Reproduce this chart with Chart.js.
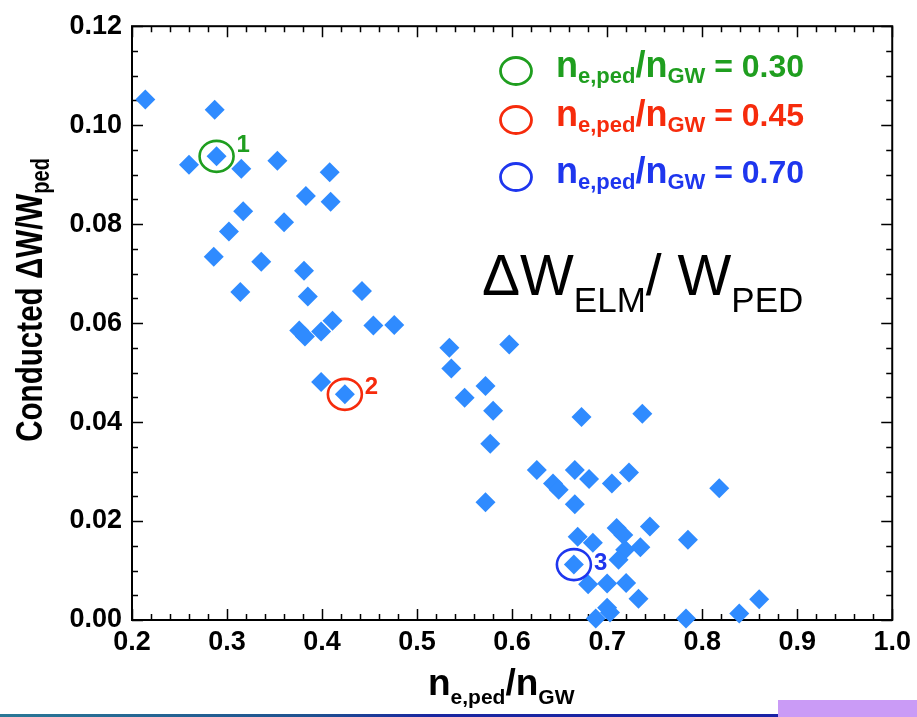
<!DOCTYPE html>
<html>
<head>
<meta charset="utf-8">
<script src="https://cdn.jsdelivr.net/npm/chart.js@4.4.0/dist/chart.umd.min.js"></script>
<style>
  html, body { margin: 0; padding: 0; background: #fff; }
  #wrap { width: 917px; height: 717px; }
</style>
</head>
<body>
<div id="wrap"><canvas id="elmChart" width="917" height="717"></canvas></div>
<script>
// n_e,ped / n_GW
const densityValues = [
  0.214, 0.287, 0.289, 0.260, 0.315, 0.353, 0.408, 0.383, 0.409, 0.317,
  0.360, 0.302, 0.286, 0.336, 0.381, 0.314, 0.385, 0.442, 0.376, 0.382,
  0.399, 0.411, 0.454, 0.476, 0.399, 0.424, 0.534, 0.536, 0.597, 0.572,
  0.550, 0.580, 0.673, 0.577, 0.626, 0.666, 0.681, 0.643, 0.649, 0.705,
  0.723, 0.666, 0.572, 0.669, 0.685, 0.710, 0.717, 0.719, 0.712, 0.665,
  0.680, 0.700, 0.720, 0.733, 0.700, 0.703, 0.688, 0.737, 0.818, 0.745,
  0.785, 0.735, 0.860, 0.839, 0.783
];
// Conducted dW / W_ped
const energyLossValues = [
  0.1052, 0.1031, 0.0937, 0.0920, 0.0912, 0.0928, 0.0905, 0.0857, 0.0845, 0.0826,
  0.0804, 0.0785, 0.0734, 0.0724, 0.0706, 0.0663, 0.0654, 0.0665, 0.0585, 0.0573,
  0.0583, 0.0605, 0.0595, 0.0596, 0.0481, 0.0456, 0.0550, 0.0508, 0.0557, 0.0473,
  0.0449, 0.0423, 0.0410, 0.0356, 0.0303, 0.0303, 0.0285, 0.0276, 0.0263, 0.0276,
  0.0298, 0.0234, 0.0238, 0.0168, 0.0156, 0.0186, 0.0172, 0.0142, 0.0122, 0.0112,
  0.0072, 0.0074, 0.0075, 0.0043, 0.0025, 0.0015, 0.0003, 0.0417, 0.0266, 0.0189,
  0.0162, 0.0147, 0.0042, 0.0013, 0.0003
];
// circled shots and legend
const highlightIndex = [2, 25, 49];
const highlightLabels = ['1', '2', '3'];
const legendValues = ['0.30', '0.45', '0.70'];
const highlightColors = ['#1f9e1f', '#f62b0c', '#1e36ee'];

const xTickValues = [0.2, 0.3, 0.4, 0.5, 0.6, 0.7, 0.8, 0.9, 1.0];
const yTickValues = [0.00, 0.02, 0.04, 0.06, 0.08, 0.10, 0.12];

const BOLD = "'Liberation Sans', Arial, sans-serif";

// draws a row of text pieces (with subscripts) starting at x
function drawRich(ctx, x, y, parts, color) {
  ctx.fillStyle = color;
  ctx.textBaseline = 'alphabetic';
  ctx.textAlign = 'left';
  parts.forEach(p => {
    ctx.font = p.font;
    ctx.fillText(p.t, x, y + (p.dy || 0));
    x += ctx.measureText(p.t).width;
  });
  return x;
}
function richWidth(ctx, parts) {
  let w = 0;
  parts.forEach(p => { ctx.font = p.font; w += ctx.measureText(p.t).width; });
  return w;
}

const framePlugin = {
  id: 'frame',
  beforeDatasetsDraw(chart) {
    const { ctx, chartArea: a, scales: { x, y } } = chart;
    ctx.save();
    ctx.strokeStyle = '#000';
    ctx.lineWidth = 2;
    ctx.strokeRect(a.left, a.top, a.right - a.left, a.bottom - a.top);
    ctx.lineWidth = 1.5;
    ctx.beginPath();
    // x minor ticks every 0.02
    for (let k = 0; k <= 40; k++) {
      const px = Math.round(x.getPixelForValue(0.2 + k * 0.02)) + 0.5;
      const len = k % 5 === 0 ? 11 : 6;
      ctx.moveTo(px, a.bottom); ctx.lineTo(px, a.bottom - len);
      ctx.moveTo(px, a.top); ctx.lineTo(px, a.top + len);
    }
    // y minor ticks every 0.005
    for (let k = 0; k <= 24; k++) {
      const py = Math.round(y.getPixelForValue(k * 0.005)) + 0.5;
      const len = k % 4 === 0 ? 11 : 6;
      ctx.moveTo(a.left, py); ctx.lineTo(a.left + len, py);
      ctx.moveTo(a.right, py); ctx.lineTo(a.right - len, py);
    }
    ctx.stroke();
    ctx.restore();
  },
  afterDatasetsDraw(chart) {
    const { ctx, scales: { x, y } } = chart;
    ctx.save();

    // circled points with numbers
    const labelDy = [-11, -7, -1];
    highlightIndex.forEach((idx, i) => {
      const px = x.getPixelForValue(densityValues[idx]);
      const py = y.getPixelForValue(energyLossValues[idx]);
      ctx.strokeStyle = highlightColors[i];
      ctx.lineWidth = 2.6;
      ctx.beginPath();
      ctx.ellipse(px, py, 17, 15.5, 0, 0, Math.PI * 2);
      ctx.stroke();
      ctx.fillStyle = highlightColors[i];
      ctx.font = 'bold 24px ' + BOLD;
      ctx.textBaseline = 'middle';
      ctx.textAlign = 'left';
      ctx.fillText(highlightLabels[i], px + 20, py + labelDy[i]);
    });

    // legend
    const legendY = [71, 120, 177];
    legendValues.forEach((v, i) => {
      ctx.strokeStyle = highlightColors[i];
      ctx.lineWidth = 2.8;
      ctx.beginPath();
      ctx.ellipse(516, legendY[i], 15.5, 13.5, 0, 0, Math.PI * 2);
      ctx.stroke();
      drawRich(ctx, 556, legendY[i] + 6, [
        { t: 'n', font: 'bold 36px ' + BOLD },
        { t: 'e,ped', font: 'bold 22px ' + BOLD, dy: 6 },
        { t: '/n', font: 'bold 36px ' + BOLD },
        { t: 'GW', font: 'bold 22px ' + BOLD, dy: 6 },
        { t: ' = ' + v, font: 'bold 32px ' + BOLD }
      ], highlightColors[i]);
    });

    // big annotation
    drawRich(ctx, 482, 295, [
      { t: '\u0394W', font: '57px ' + BOLD },
      { t: 'ELM', font: '35px ' + BOLD, dy: 17 },
      { t: '/ W', font: '57px ' + BOLD },
      { t: 'PED', font: '35px ' + BOLD, dy: 17 }
    ], '#000');

    // x axis title
    drawRich(ctx, 428, 695, [
      { t: 'n', font: 'bold 37px ' + BOLD },
      { t: 'e,ped', font: 'bold 21px ' + BOLD, dy: 9 },
      { t: '/n', font: 'bold 37px ' + BOLD },
      { t: 'GW', font: 'bold 21px ' + BOLD, dy: 9 }
    ], '#000');

    // y axis title (rotated, condensed by horizontal scaling)
    const yParts = [
      { t: 'Conducted \u0394W/W', font: 'bold 37px ' + BOLD },
      { t: 'ped', font: 'bold 25px ' + BOLD, dy: 7 }
    ];
    const w = richWidth(ctx, yParts);
    ctx.translate(42, 300);
    ctx.rotate(-Math.PI / 2);
    ctx.scale(0.8, 1);
    drawRich(ctx, -w / 2, 0, yParts, '#000');
    ctx.restore();
  },
  afterDraw(chart) {
    const { ctx } = chart;
    ctx.save();
    const g = ctx.createLinearGradient(0, 0, 780, 0);
    g.addColorStop(0, '#2a7896');
    g.addColorStop(0.4, '#1f5190');
    g.addColorStop(0.55, '#1a27a0');
    g.addColorStop(1, '#1a22a6');
    ctx.fillStyle = g;
    ctx.fillRect(0, 714, 780, 3);
    ctx.fillStyle = '#ca9bf6';
    ctx.fillRect(778, 700, 139, 17);
    ctx.restore();
  }
};

new Chart(document.getElementById('elmChart'), {
  type: 'scatter',
  data: {
    datasets: [{
      data: densityValues.map((v, i) => ({ x: v, y: energyLossValues[i] })),
      pointStyle: 'rectRot',
      pointRadius: 10,
      pointHoverRadius: 10,
      backgroundColor: '#2f8bff',
      borderWidth: 0,
      clip: false
    }]
  },
  options: {
    responsive: false,
    animation: false,
    layout: { padding: { top: 23, right: 21, left: 0, bottom: 0 } },
    plugins: { legend: { display: false }, tooltip: { enabled: false } },
    scales: {
      x: {
        type: 'linear',
        min: 0.2,
        max: 1.0,
        afterBuildTicks: s => { s.ticks = xTickValues.map(v => ({ value: v })); },
        afterFit: s => { s.height = 97; },
        grid: { display: false, drawTicks: false },
        border: { display: false },
        ticks: {
          padding: 6,
          color: '#000',
          font: { family: BOLD, size: 27, weight: 'bold' },
          callback: v => v.toFixed(1)
        }
      },
      y: {
        type: 'linear',
        min: 0,
        max: 0.12,
        afterBuildTicks: s => { s.ticks = yTickValues.map(v => ({ value: v })); },
        afterFit: s => { s.width = 132; },
        grid: { display: false, drawTicks: false },
        border: { display: false },
        ticks: {
          padding: 10,
          color: '#000',
          font: { family: BOLD, size: 27, weight: 'bold' },
          callback: v => v.toFixed(2)
        }
      }
    }
  },
  plugins: [framePlugin]
});
</script>
</body>
</html>
